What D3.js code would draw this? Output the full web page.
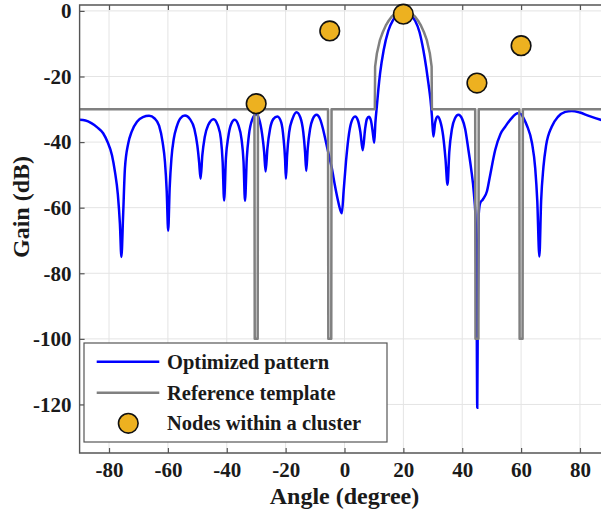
<!DOCTYPE html>
<head>
<style>
  body { margin: 0; background: #fff; }
  svg { display: block; font-family: "Liberation Serif", "Times New Roman", serif; font-weight: bold; }
</style>
</head>
<body>
<svg width="601" height="519"></svg>
<script src="https://d3js.org/d3.v7.min.js"></script>
<script>

// optimized pattern (blue)
var patternAngle = [-90, -88, -86, -84, -82, -80.5, -79, -78, -77, -76.3, -75.8, -75.2, -74.6, -73.5, -72.3, -70.5, -68.5, -66.4, -64.5, -63, -61.8, -61, -60.4, -59.9, -59.4, -58.8, -58, -57, -55.8, -54.2, -52.5, -51, -50, -49.4, -48.9, -48.3, -47.5, -46.3, -44.5, -43, -42, -41.4, -40.9, -40.3, -39.5, -38.5, -37.3, -36, -35, -34.3, -33.8, -33.2, -32.5, -31.3, -30, -29, -28, -27.3, -26.8, -26.2, -25.3, -24.2, -22.8, -21.5, -20.7, -20.2, -19.9, -19.5, -18.8, -17.7, -16.3, -15, -14, -13.4, -13, -12.5, -11.7, -10.8, -9.5, -8.3, -7.3, -6.3, -5.3, -4.3, -3.3, -2.3, -1.5, -0.9, -0.3, 0.5, 1.3, 2.3, 3.6, 4.6, 5.4, 6.2, 7, 7.6, 8.3, 9, 9.6, 10.1, 10.5, 11, 11.5, 12.1, 13.3, 14.9, 16.5, 18, 20, 22, 24, 25.5, 26.8, 27.8, 28.5, 29.2, 29.7, 30.2, 30.8, 31.6, 32.5, 33.5, 34.3, 35, 35.6, 36.5, 37.5, 38.7, 40, 41, 42.1, 43, 44, 44.6, 44.9, 45.1, 45.3, 45.6, 46.1, 47, 48.4, 49.5, 51.2, 53, 54.6, 56.5, 58.9, 60, 61, 62, 63.7, 64.8, 65.5, 66.2, 66.8, 67.6, 68.5, 70.4, 72.5, 75, 77.2, 80, 83, 87, 90];
var patternGain = [-33.2, -33.4, -34.2, -35.5, -37.3, -40, -44, -49, -56, -65, -75, -62, -48, -40.5, -36.8, -33.8, -32.4, -32, -32.8, -35, -40, -46, -55, -67, -54, -45, -39, -35.3, -32.8, -31.9, -33, -36, -41, -46, -51.2, -44, -38.5, -34.8, -33, -35, -39, -46, -57.8, -45, -38.5, -34.5, -33.2, -35, -39, -46, -57.9, -45, -38, -33, -31.5, -33, -37.5, -43, -49, -42, -36, -33, -32.2, -34, -39, -45, -51.2, -44, -37, -33, -30.9, -32.5, -37, -43, -48.8, -42, -36, -33, -31.7, -33, -36, -40, -44, -48, -53, -57.5, -60.5, -61.7, -55, -46, -39, -34, -32.2, -33.5, -37, -42.5, -36, -33, -32.3, -33.5, -37, -40.2, -34, -29, -24, -19, -12, -6, -2.8, -1, -0.2, -1, -3, -6.5, -12, -17.5, -22, -27, -32, -38.3, -34, -32.2, -33.5, -38, -45, -53, -43, -36, -32.8, -31.7, -33, -36, -42.4, -48, -56, -65, -90, -121, -90, -62, -58.6, -57.5, -55, -50, -42.4, -37.5, -35.3, -33, -31.2, -31.5, -33, -35, -40.3, -48, -58, -74.9, -58, -47.5, -41, -35.3, -32.3, -30.8, -30.5, -31, -32, -33.2, -34];

// reference template (gray)
var templateAngle = [-90, -30.6, -30.5, -29.5, -29.4, -5.6, -5.5, -4.5, -4.4, 10.3, 10.4, 11, 12, 13, 14, 15, 16, 17, 18, 19, 20, 21, 22, 23, 24, 25, 26, 27, 28, 29, 29.6, 29.7, 44.4, 44.5, 45.5, 45.6, 59.4, 59.5, 60.5, 60.6, 90];
var templateGain = [-30, -30, -100, -100, -30, -30, -100, -100, -30, -30, -17, -13, -9, -6.5, -4.5, -3, -1.8, -1, -0.4, -0.1, 0, -0.1, -0.4, -1, -1.8, -3, -4.5, -6.5, -9, -13, -17, -30, -30, -100, -100, -30, -30, -100, -100, -30, -30];

// nodes within a cluster
var nodeAngle = [-30, -5, 20, 45, 60];
var nodeGain = [-28.3, -6.1, -1, -22, -10.6];

var xTicks = [-80, -60, -40, -20, 0, 20, 40, 60, 80];
var yTicks = [-120, -100, -80, -60, -40, -20, 0];

var legendLabels = ["Optimized pattern", "Reference template", "Nodes within a cluster"];

var svg = d3.select("svg");

var x = d3.scaleLinear().domain([-90, 90]).range([79.6, 609.4]);
var y = d3.scaleLinear().domain([-134.8, 1.8]).range([453, 5]);

var plotLeft = x(-90), plotRight = x(90), plotTop = y(1.8), plotBottom = y(-134.8);

// grid
svg.append("g").selectAll("line")
    .data(xTicks)
  .enter().append("line")
    .attr("x1", function(d) { return x(d); })
    .attr("x2", function(d) { return x(d); })
    .attr("y1", plotTop).attr("y2", plotBottom)
    .attr("stroke", "#e4e4e4").attr("stroke-width", 1);

svg.append("g").selectAll("line")
    .data(yTicks)
  .enter().append("line")
    .attr("x1", plotLeft).attr("x2", plotRight)
    .attr("y1", function(d) { return y(d); })
    .attr("y2", function(d) { return y(d); })
    .attr("stroke", "#e4e4e4").attr("stroke-width", 1);

svg.append("defs").append("clipPath").attr("id", "plot")
  .append("rect").attr("x", plotLeft).attr("y", plotTop)
    .attr("width", plotRight - plotLeft).attr("height", plotBottom - plotTop);

var plot = svg.append("g").attr("clip-path", "url(#plot)");

var pattern = d3.line()
    .x(function(d) { return x(d[0]); })
    .y(function(d) { return y(d[1]); })
    .curve(d3.curveMonotoneX);

var template = d3.line()
    .x(function(d) { return x(d[0]); })
    .y(function(d) { return y(d[1]); });

plot.append("path")
    .datum(d3.zip(patternAngle, patternGain))
    .attr("d", pattern)
    .attr("fill", "none")
    .attr("stroke", "#0000ff")
    .attr("stroke-width", 2.5);

plot.append("path")
    .datum(d3.zip(templateAngle, templateGain))
    .attr("d", template)
    .attr("fill", "none")
    .attr("stroke", "#808080")
    .attr("stroke-width", 2.5)
    .attr("stroke-linejoin", "round");

// axes box (right side is cut by the window)
svg.append("path")
    .attr("d", "M" + plotRight + "," + plotTop + "H" + plotLeft + "V" + plotBottom + "H" + plotRight)
    .attr("fill", "none").attr("stroke", "#555").attr("stroke-width", 1.4);

var xAxis = svg.append("g")
    .attr("transform", "translate(0," + plotBottom + ")")
    .call(d3.axisBottom(x).tickValues(xTicks).tickSizeInner(-5).tickSizeOuter(0).tickPadding(9)
      .tickFormat(function(d) { return String(d); }));
xAxis.select(".domain").remove();

var xTop = svg.append("g")
    .attr("transform", "translate(0," + plotTop + ")")
    .call(d3.axisTop(x).tickValues(xTicks).tickSizeInner(-5).tickSizeOuter(0).tickFormat(""));
xTop.select(".domain").remove();

var yAxis = svg.append("g")
    .attr("transform", "translate(" + plotLeft + ",0)")
    .call(d3.axisLeft(y).tickValues(yTicks).tickSizeInner(-5).tickSizeOuter(0).tickPadding(8)
      .tickFormat(function(d) { return String(d); }));
yAxis.select(".domain").remove();

svg.selectAll(".tick line").attr("stroke", "#555").attr("stroke-width", 1.2);
svg.selectAll(".tick text")
    .attr("font-family", "Liberation Serif")
    .attr("font-weight", "bold")
    .attr("font-size", 21)
    .attr("fill", "#1a1a1a");

// nodes
svg.append("g").selectAll("circle")
    .data(d3.zip(nodeAngle, nodeGain))
  .enter().append("circle")
    .attr("cx", function(d) { return x(d[0]); })
    .attr("cy", function(d) { return y(d[1]); })
    .attr("r", 9.8)
    .attr("fill", "#EDB120")
    .attr("stroke", "#111")
    .attr("stroke-width", 1.6);

// axis titles
svg.append("text")
    .attr("x", x(0)).attr("y", 504)
    .attr("text-anchor", "middle")
    .attr("font-size", 24)
    .attr("fill", "#1a1a1a")
    .text("Angle (degree)");

svg.append("text")
    .attr("transform", "translate(29,207) rotate(-90)")
    .attr("text-anchor", "middle")
    .attr("font-size", 24)
    .attr("fill", "#1a1a1a")
    .text("Gain (dB)");

// legend
var legend = svg.append("g");
legend.append("rect")
    .attr("x", 84).attr("y", 343).attr("width", 303).attr("height", 99)
    .attr("fill", "#fff").attr("stroke", "#555").attr("stroke-width", 1.2);

var rowY = [361.7, 392.7, 423.3];
var row = legend.selectAll(".row")
    .data(legendLabels)
  .enter().append("g")
    .attr("transform", function(d, i) { return "translate(0," + rowY[i] + ")"; });

row.filter(function(d, i) { return i < 2; }).append("line")
    .attr("x1", 96.7).attr("x2", 159.3)
    .attr("stroke", function(d, i) { return i === 0 ? "#0000ff" : "#808080"; })
    .attr("stroke-width", 2.5);

row.filter(function(d, i) { return i === 2; }).append("circle")
    .attr("cx", 128.3).attr("r", 9.8)
    .attr("fill", "#EDB120").attr("stroke", "#111").attr("stroke-width", 1.6);

row.append("text")
    .attr("x", 167).attr("y", 7)
    .attr("font-size", 20.5)
    .attr("fill", "#1a1a1a")
    .text(function(d) { return d; });

</script>
</body>
